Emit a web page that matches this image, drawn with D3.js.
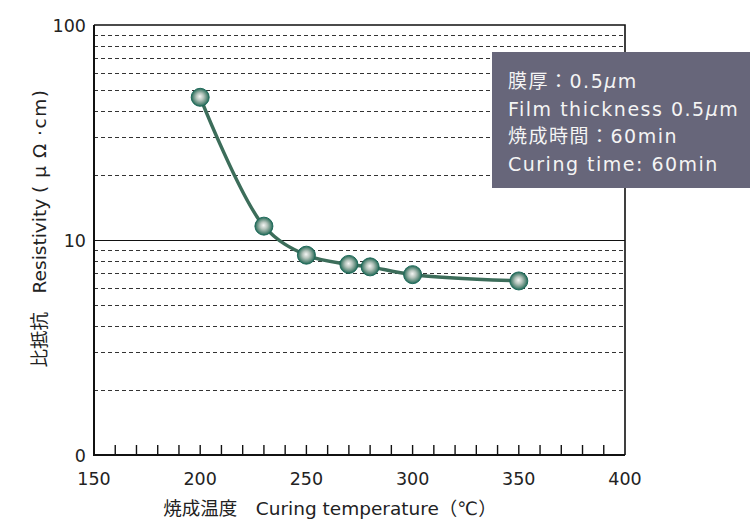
<!DOCTYPE html>
<html>
<head>
<meta charset="utf-8">
<script src="https://cdn.jsdelivr.net/npm/d3@7"></script>
<style>
  html, body { margin: 0; padding: 0; background: #fff; }
  svg { display: block; }
  text { font-family: "DejaVu Sans", "Noto Sans CJK JP", sans-serif; }
</style>
</head>
<body>
<svg id="chart" width="750" height="524"></svg>
<script>
// ---- data ----
const temperatures = [200, 230, 250, 270, 280, 300, 350];
const resistivity  = [46.1, 11.6, 8.5, 7.7, 7.5, 6.9, 6.45];
const xTickLabels  = [150, 200, 250, 300, 350, 400];
const yTickValues  = [1, 10, 100];
const yTickLabels  = ["0", "10", "100"];
const yGridDashed  = [2, 3, 4, 5, 6, 7, 8, 9, 20, 30, 40, 50, 60, 70, 80, 90];
const noteLines    = ["膜厚：0.5", "Film thickness 0.5", "焼成時間：60min", "Curing time: 60min"];
const noteMicro    = [true, true, false, false];

const svg = d3.select("#chart");
const L = 94, R = 625, T = 25, B = 455;

const x = d3.scaleLinear().domain([150, 400]).range([L, R]);
const y = d3.scaleLog().domain([1, 100]).range([B, T]);

// dashed gridlines
svg.append("g").selectAll("line").data(yGridDashed).join("line")
  .attr("x1", L).attr("x2", R)
  .attr("y1", d => Math.round(y(d)) + 0.5).attr("y2", d => Math.round(y(d)) + 0.5)
  .attr("stroke", "#333").attr("stroke-width", 1).attr("stroke-dasharray", "4,3");

// solid line at 10
svg.append("line").attr("x1", L).attr("x2", R)
  .attr("y1", Math.round(y(10)) + 0.5).attr("y2", Math.round(y(10)) + 0.5)
  .attr("stroke", "#111").attr("stroke-width", 1.2);

// frame top / right
svg.append("path")
  .attr("d", `M${L},${T}H${R}V${B}`)
  .attr("fill", "none").attr("stroke", "#111").attr("stroke-width", 1.6);

// minor ticks on bottom axis
const minor = d3.range(160, 400, 10);
svg.append("g").selectAll("line").data(minor).join("line")
  .attr("x1", d => x(d)).attr("x2", d => x(d))
  .attr("y1", B).attr("y2", B - 10)
  .attr("stroke", "#111").attr("stroke-width", 1.4);

// left and bottom axis lines
svg.append("path")
  .attr("d", `M${L},${T}V${B}H${R}`)
  .attr("fill", "none").attr("stroke", "#111").attr("stroke-width", 2);

// x tick labels
svg.append("g").selectAll("text").data(xTickLabels).join("text")
  .attr("x", d => x(d)).attr("y", 485)
  .attr("text-anchor", "middle").attr("font-size", 17.5).attr("fill", "#222")
  .text(d => d);

// y tick labels
svg.append("g").selectAll("text").data(yTickValues).join("text")
  .attr("x", 86).attr("y", d => y(d) + 6.5)
  .attr("text-anchor", "end").attr("font-size", 17.5).attr("fill", "#222")
  .text((d, i) => yTickLabels[i]);

// axis titles
svg.append("text")
  .attr("x", 330).attr("y", 515).attr("text-anchor", "middle")
  .attr("font-size", 18.5).attr("fill", "#222")
  .text("焼成温度　Curing temperature（℃）");

const yt = svg.append("text")
  .attr("transform", "translate(46,228) rotate(-90)")
  .attr("text-anchor", "middle").attr("font-size", 18.5).attr("fill", "#222");
yt.append("tspan").text("比抵抗　Resistivity ");
yt.append("tspan").attr("letter-spacing", 8).text("(μΩ");
yt.append("tspan").attr("letter-spacing", 1.5).text("·cm)");

// gradient for markers
const defs = svg.append("defs");
const grad = defs.append("radialGradient").attr("id", "ball")
  .attr("cx", "50%").attr("cy", "50%").attr("r", "50%")
  .attr("fx", "48%").attr("fy", "45%");
grad.append("stop").attr("offset", "0%").attr("stop-color", "#f4f6f4");
grad.append("stop").attr("offset", "40%").attr("stop-color", "#b5c4bc");
grad.append("stop").attr("offset", "78%").attr("stop-color", "#5a8a7a");
grad.append("stop").attr("offset", "100%").attr("stop-color", "#1c6856");

// data line
const pts = temperatures.map((t, i) => [t, resistivity[i]]);
const line = d3.line().x(d => x(d[0])).y(d => y(d[1])).curve(d3.curveCatmullRom.alpha(0.5));
svg.append("path").datum(pts)
  .attr("d", line).attr("fill", "none")
  .attr("stroke", "#3c6d5a").attr("stroke-width", 3.5);

svg.append("g").selectAll("circle").data(pts).join("circle")
  .attr("cx", d => x(d[0])).attr("cy", d => y(d[1])).attr("r", 9)
  .attr("fill", "url(#ball)").attr("stroke", "#1f6a5a").attr("stroke-width", 1);

// note box
svg.append("rect").attr("x", 492).attr("y", 52).attr("width", 258).attr("height", 136)
  .attr("fill", "#67667a");
const nt = svg.append("g");
noteLines.forEach((s, i) => {
  const t = nt.append("text").attr("x", 508).attr("y", 88 + i * 27.7)
    .attr("font-size", 19).attr("letter-spacing", 1.5).attr("fill", "#f4f4f4");
  t.append("tspan").text(s);
  if (noteMicro[i]) {
    t.append("tspan").attr("font-style", "italic").text("μ");
    t.append("tspan").text("m");
  }
});
</script>
</body>
</html>
